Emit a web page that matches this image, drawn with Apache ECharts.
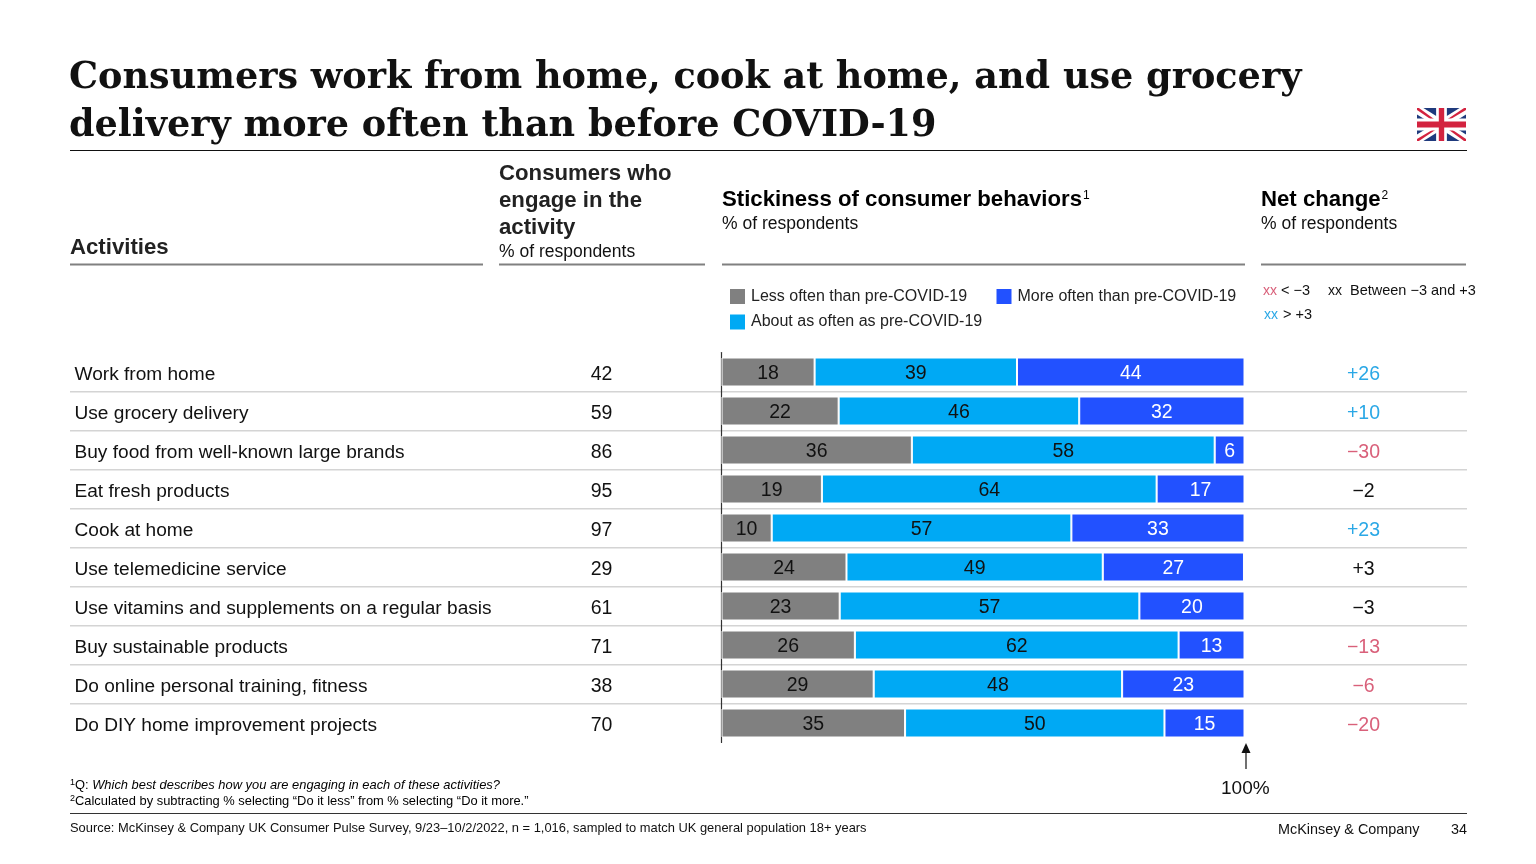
<!DOCTYPE html>
<html><head><meta charset="utf-8">
<script src="https://cdn.jsdelivr.net/npm/echarts@6/dist/echarts.min.js"></script>
<style>html,body{margin:0;padding:0;background:#fff}#c{width:1536px;height:864px}</style>
</head><body><div id="c"></div>
<script>
const activities=["Work from home","Use grocery delivery","Buy food from well-known large brands","Eat fresh products","Cook at home","Use telemedicine service","Use vitamins and supplements on a regular basis","Buy sustainable products","Do online personal training, fitness","Do DIY home improvement projects"];
const engage=[42,59,86,95,97,29,61,71,38,70];
const lessOften=[17.8,22.4,36.4,19.2,9.6,23.9,22.6,25.5,29.1,35.1];
const aboutSame=[38.7,46.0,57.9,64.0,57.3,49.0,57.3,61.9,47.5,49.6];
const moreOften=[43.5,31.6,5.7,16.8,33.1,27.0,20.1,12.6,23.4,15.3];
const netChange=[26,10,-30,-2,23,3,-3,-13,-6,-20];
const titleLines=["Consumers work from home, cook at home, and use grocery","delivery more often than before COVID-19"];
const C={gray:'#808080',sky:'#00A9F4',blue:'#2251FF',pos:'#2BA8E6',neg:'#D9607A',ink:'#111',head:'#222',rule:'#808080',sep:'#D4D4D4'};
const F='"Liberation Sans",Arial,sans-serif';
const fmtNet=v=>(v>0?'+':v<0?'\u2212':'')+Math.abs(v);
const netTag=v=>v>3?'pos':v<-3?'neg':'mid';

const rect=(x,y,w,h,fill,z)=>({type:'rect',z:z===undefined?1:z,shape:{x,y,width:w,height:h},style:{fill},silent:true});
const txt=(x,y,text,size,o={})=>({type:'text',x,y,silent:true,style:Object.assign({text,fill:C.ink,font:(o.weight||'normal')+' '+size+'px '+F,textVerticalAlign:'middle'},o.style||{})});
const poly=(pts,fill)=>({type:'polygon',z:1,shape:{points:pts},style:{fill},silent:true});

function flag(x,y,w,h){
  const P=(a,b)=>[x+a*w,y+b*h];
  const els=[rect(x,y,w,h,'#1F3A7D')];
  const d=0.13,e=0.2;
  els.push(poly([P(0,0),P(d,0),P(1,1-e),P(1,1),P(1-d,1),P(0,e)],'#fff'));
  els.push(poly([P(1,0),P(1-d,0),P(0,1-e),P(0,1),P(d,1),P(1,e)],'#fff'));
  const r=0.04,s=0.06;
  els.push(poly([P(0,0),P(r,0),P(0.5,0.5),P(0.5,0.5+s),P(0,s)],'#D3233F'));
  els.push(poly([P(1,1),P(1-r,1),P(0.5,0.5),P(0.5,0.5-s),P(1,1-s)],'#D3233F'));
  els.push(poly([P(1,0),P(1,s),P(0.5,0.5),P(0.5-r,0.5),P(1-r,0)],'#D3233F'));
  els.push(poly([P(0,1),P(0,1-s),P(0.5,0.5),P(0.5+r,0.5),P(r,1)],'#D3233F'));
  els.push(rect(x+w*0.39,y,w*0.22,h,'#fff'));
  els.push(rect(x,y+h*0.32,w,h*0.36,'#fff'));
  els.push(rect(x+w*0.445,y,w*0.11,h,'#D3233F'));
  els.push(rect(x,y+h*0.41,w,h*0.18,'#D3233F'));
  return els;
}

const graphics=[];
titleLines.forEach((t,i)=>graphics.push({type:'text',x:69,y:78+i*48,silent:true,style:{text:t,fill:'#111',font:'bold 36.6px "DejaVu Serif",serif',textVerticalAlign:'middle'}}));
graphics.push(...flag(1417,108,49,33));
graphics.push(rect(70,150,1397,1,'#111'));
[[70,413],[499,206],[722,523],[1261,205]].forEach(r=>graphics.push(rect(r[0],263.5,r[1],2,C.rule)));
graphics.push(txt(70,248,'Activities',22.2,{weight:'bold',style:{fill:C.head}}));
['Consumers who','engage in the','activity'].forEach((t,i)=>graphics.push(txt(499,174+i*26.7,t,22.2,{weight:'bold',style:{fill:C.head}})));
graphics.push(txt(499,252,'% of respondents',17.5));
const supRich=size=>({b:{fontWeight:'bold',fontSize:size,fontFamily:F,color:C.head},s:{fontSize:12,fontFamily:F,color:'#333',padding:[0,0,8,1]}});
graphics.push({type:'text',x:722,y:200,silent:true,style:{text:'{b|Stickiness of consumer behaviors}{s|1}',textVerticalAlign:'middle',rich:supRich(22.2)}});
graphics.push(txt(722,224,'% of respondents',17.5));
graphics.push({type:'text',x:1261,y:200,silent:true,style:{text:'{b|Net change}{s|2}',textVerticalAlign:'middle',rich:supRich(22.2)}});
graphics.push(txt(1261,224,'% of respondents',17.5));
// net-change key
graphics.push(txt(1263,291,'xx',14,{style:{fill:C.neg}}));
graphics.push(txt(1281,291,'< \u22123',14.5));
graphics.push(txt(1328,291,'xx',14));
graphics.push(txt(1350,291,'Between \u22123 and +3',14.5));
graphics.push(txt(1264,315,'xx',14,{style:{fill:C.pos}}));
graphics.push(txt(1283,315,'> +3',14.5));
// row separators
for(let i=1;i<activities.length;i++){
  graphics.push(rect(70,352.5+i*39-0.5,1397,1.6,C.sep,-1));
}
// 100% marker
graphics.push(rect(1245.4,752,1.2,17,'#111'));
graphics.push(poly([[1246,743],[1241.5,753],[1250.5,753]],'#111'));
graphics.push(txt(1221,789,'100%',19));
// footnotes
const footRich={s:{fontSize:9,fontFamily:F,color:'#111',padding:[0,0,5,0]},n:{fontSize:12.9,fontFamily:F,color:'#111'},i:{fontSize:12.9,fontFamily:F,color:'#111',fontStyle:'italic'}};
graphics.push({type:'text',x:70,y:785,silent:true,style:{text:'{s|1}{n|Q: }{i|Which best describes how you are engaging in each of these activities?}',textVerticalAlign:'middle',rich:footRich}});
graphics.push({type:'text',x:70,y:801,silent:true,style:{text:'{s|2}{n|Calculated by subtracting % selecting \u201cDo it less\u201d from % selecting \u201cDo it more.\u201d}',textVerticalAlign:'middle',rich:footRich}});
graphics.push(rect(70,813,1397,1,'#333'));
graphics.push(txt(70,828,'Source: McKinsey & Company UK Consumer Pulse Survey, 9/23\u201310/2/2022, n = 1,016, sampled to match UK general population 18+ years',12.9));
graphics.push(txt(1278,830,'McKinsey & Company',14.4));
graphics.push(txt(1451,830,'34',14.4));

const hiddenBits={axisTick:{show:false},splitLine:{show:false}};
const bar=(name,data,color,labelColor)=>({name,type:'bar',stack:'s',data,barWidth:29,
  itemStyle:{color,borderColor:'#fff',borderWidth:1},
  label:{show:true,position:'inside',offset:[0,2],color:labelColor,fontFamily:F,fontSize:19.5,formatter:p=>Math.round(p.value)}});

const legendBase={orient:'vertical',itemWidth:17,itemHeight:17,itemGap:6.5,icon:'rect',padding:0,selectedMode:false,
  textStyle:{fontFamily:F,fontSize:16,color:'#222',padding:[6,0,0,0]}};

const plainLabel=size=>({formatter:v=>'{t|'+v+'}',rich:{t:{color:'#111',fontSize:size,fontFamily:F,padding:[6,0,0,0]}}});

const chart=echarts.init(document.getElementById('c'),null,{renderer:'canvas'});
chart.setOption({
  animation:false,backgroundColor:'#fff',
  grid:{left:721.5,width:523,top:352.5,height:390,containLabel:false},
  legend:[
    Object.assign({},legendBase,{left:728,top:287,data:['Less often than pre-COVID-19','About as often as pre-COVID-19']}),
    Object.assign({},legendBase,{left:994.5,top:287,data:['More often than pre-COVID-19']})
  ],
  xAxis:{type:'value',min:0,max:100,show:false},
  yAxis:[
    {type:'category',inverse:true,data:activities,
      axisLine:{show:true,lineStyle:{color:'#333',width:1.2}},...hiddenBits,
      axisLabel:Object.assign({align:'left',margin:647,interval:0},plainLabel(19.1))},
    {type:'category',inverse:true,position:'left',offset:120,data:engage.map(String),
      axisLine:{show:false},...hiddenBits,
      axisLabel:Object.assign({align:'center',margin:0,interval:0},plainLabel(19.5))},
    {type:'category',inverse:true,position:'right',offset:119,data:netChange.map(String),
      axisLine:{show:false},...hiddenBits,
      axisLabel:{align:'center',margin:0,padding:[6,0,0,0],interval:0,fontFamily:F,fontSize:19.5,
        formatter:v=>{const n=+v;return '{'+netTag(n)+'|'+fmtNet(n)+'}';},
        rich:{pos:{color:C.pos,fontSize:19.5,fontFamily:F},neg:{color:C.neg,fontSize:19.5,fontFamily:F},mid:{color:'#111',fontSize:19.5,fontFamily:F}}}}
  ],
  series:[
    bar('Less often than pre-COVID-19',lessOften,C.gray,'#111'),
    bar('About as often as pre-COVID-19',aboutSame,C.sky,'#111'),
    bar('More often than pre-COVID-19',moreOften,C.blue,'#fff')
  ],
  graphic:{elements:graphics}
});
</script></body></html>
